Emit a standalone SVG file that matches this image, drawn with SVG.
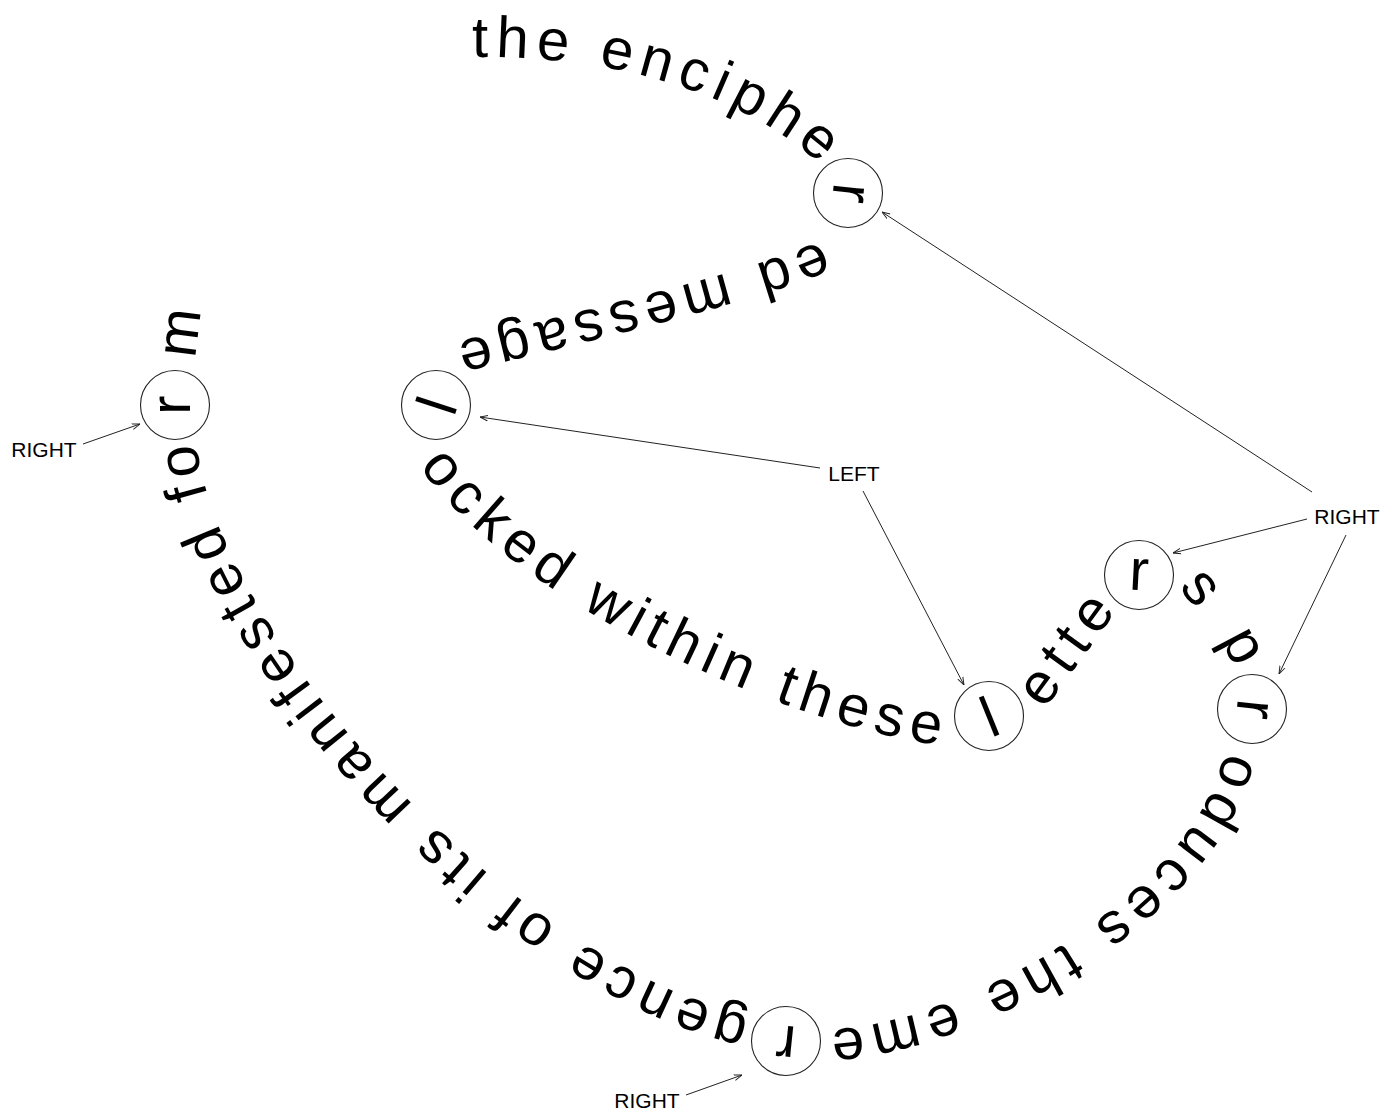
<svg xmlns="http://www.w3.org/2000/svg" width="1393" height="1113" viewBox="0 0 1393 1113">
  <style>
    .flow { font-family: "Liberation Sans", Arial, sans-serif; font-size: 58px; fill: #000; }
    .glyph { font-family: "Liberation Sans", Arial, sans-serif; font-size: 58px; fill: #000; text-anchor: middle; }
    .ring { fill: #fff; stroke: #222; stroke-width: 1.1; }
    .label { font-family: "Liberation Sans", Arial, sans-serif; font-size: 21px; fill: #000; text-anchor: middle; }
    .edge { fill: none; stroke: #222; stroke-width: 1; marker-end: url(#arrow); }
    .sa { letter-spacing: 8.3px; }
    .sb { letter-spacing: 7.2px; }
    .sc { letter-spacing: 6.7px; }
    .sd { letter-spacing: 8.5px; }
    .sf { letter-spacing: 8.7px; }
    .sg { letter-spacing: 7.5px; }
  </style>
  <defs>
    <marker id="arrow" viewBox="0 0 10 10" refX="10" refY="5" markerWidth="8" markerHeight="8" markerUnits="userSpaceOnUse" orient="auto">
      <path d="M0,1.5 L10,5 L0,8.5" fill="none" stroke="#222" stroke-width="1.2"/>
    </marker>
    <!-- guide curves for the running text, one per stretch between rings -->
    <path id="segA" d="M472,42 C600,40 740,70 836,158"/>
    <path id="segB" d="M826,254 C783,279 551,335 454,358"/>
    <path id="segC" d="M431,457 C529,596 798,712 946,731"/>
    <path id="segD" d="M1032.5,701 L1109.5,595"/>
    <path id="segF" d="M1239,756 C1208,903 974,1040 824,1045"/>
    <path id="segG" d="M746,1030 C501,978 198,638 181,439"/>
  </defs>

  <!-- connectors -->
  <g id="connectors">
    <path class="edge" d="M1312,492 L882,212"/>
    <path class="edge" d="M1307,519 L1173,553"/>
    <path class="edge" d="M1346,535 L1279,674"/>
    <path class="edge" d="M820,468 L480,417"/>
    <path class="edge" d="M863,491 L964,685"/>
    <path class="edge" d="M83,444 L140,424"/>
    <path class="edge" d="M686,1095 L742,1075"/>
  </g>

  <!-- running text, word by word along the guide curves -->
  <g id="text-flow">
    <text class="flow sa" dy="15"><textPath href="#segA">the</textPath></text>
    <text class="flow sa" dy="15"><textPath href="#segA" startOffset="129.8">enciphe</textPath></text>

    <text class="flow sb" dy="15"><textPath href="#segB">ed</textPath></text>
    <text class="flow sb" dy="15"><textPath href="#segB" startOffset="102.1">message</textPath></text>

    <text class="flow sc" dy="15"><textPath href="#segC">ocked</textPath></text>
    <text class="flow sc" dy="15"><textPath href="#segC" startOffset="210.9">within</textPath></text>
    <text class="flow sc" dy="15"><textPath href="#segC" startOffset="422.1">these</textPath></text>

    <text class="flow sd" dy="15"><textPath href="#segD">ette</textPath></text>

    <text class="glyph" transform="translate(1199,589) rotate(50)" dy="15">s</text>
    <text class="glyph" transform="translate(1241,647) rotate(62)" dy="15">p</text>

    <text class="flow sf" dy="15"><textPath href="#segF">oduces</textPath></text>
    <text class="flow sf" dy="15"><textPath href="#segF" startOffset="263.8">the</textPath></text>
    <text class="flow sf" dy="15"><textPath href="#segF" startOffset="395.2">eme</textPath></text>

    <text class="flow sg" dy="15"><textPath href="#segG">gence</textPath></text>
    <text class="flow sg" dy="15"><textPath href="#segG" startOffset="218.9">of</textPath></text>
    <text class="flow sg" dy="15"><textPath href="#segG" startOffset="305.8">its</textPath></text>
    <text class="flow sg" dy="15"><textPath href="#segG" startOffset="409.9">manifested</textPath></text>
    <text class="flow sg" dy="15"><textPath href="#segG" startOffset="791.9">fo</textPath></text>

    <text class="glyph" transform="translate(183,333) rotate(-83)" dy="15">m</text>
  </g>

  <!-- ringed letters -->
  <g id="node-r1">
    <circle class="ring" cx="848" cy="193" r="34.5"/>
    <text class="glyph" transform="translate(848,193) rotate(96)" dy="15">r</text>
  </g>
  <g id="node-l1">
    <circle class="ring" cx="436" cy="405" r="34.5"/>
    <text class="glyph" transform="translate(436,405) rotate(108)" dy="21">l</text>
  </g>
  <g id="node-l2">
    <circle class="ring" cx="989" cy="716" r="34.5"/>
    <text class="glyph" transform="translate(989,716) rotate(-22)" dy="21">l</text>
  </g>
  <g id="node-r2">
    <circle class="ring" cx="1139" cy="575" r="34.5"/>
    <text class="glyph" transform="translate(1139,575) rotate(3)" dy="15">r</text>
  </g>
  <g id="node-r3">
    <circle class="ring" cx="1252" cy="709" r="34.5"/>
    <text class="glyph" transform="translate(1252,709) rotate(96)" dy="15">r</text>
  </g>
  <g id="node-r4">
    <circle class="ring" cx="786" cy="1041" r="34.5"/>
    <text class="glyph" transform="translate(786,1041) rotate(186)" dy="15">r</text>
  </g>
  <g id="node-r5">
    <circle class="ring" cx="175" cy="405" r="34.5"/>
    <text class="glyph" transform="translate(175,405) rotate(-90)" dy="15">r</text>
  </g>

  <!-- direction labels -->
  <g id="label-right-east"><text class="label" x="1347" y="523.5">RIGHT</text></g>
  <g id="label-left"><text class="label" x="854" y="480.5">LEFT</text></g>
  <g id="label-right-west"><text class="label" x="44" y="456.5">RIGHT</text></g>
  <g id="label-right-south"><text class="label" x="647" y="1107.5">RIGHT</text></g>
</svg>
